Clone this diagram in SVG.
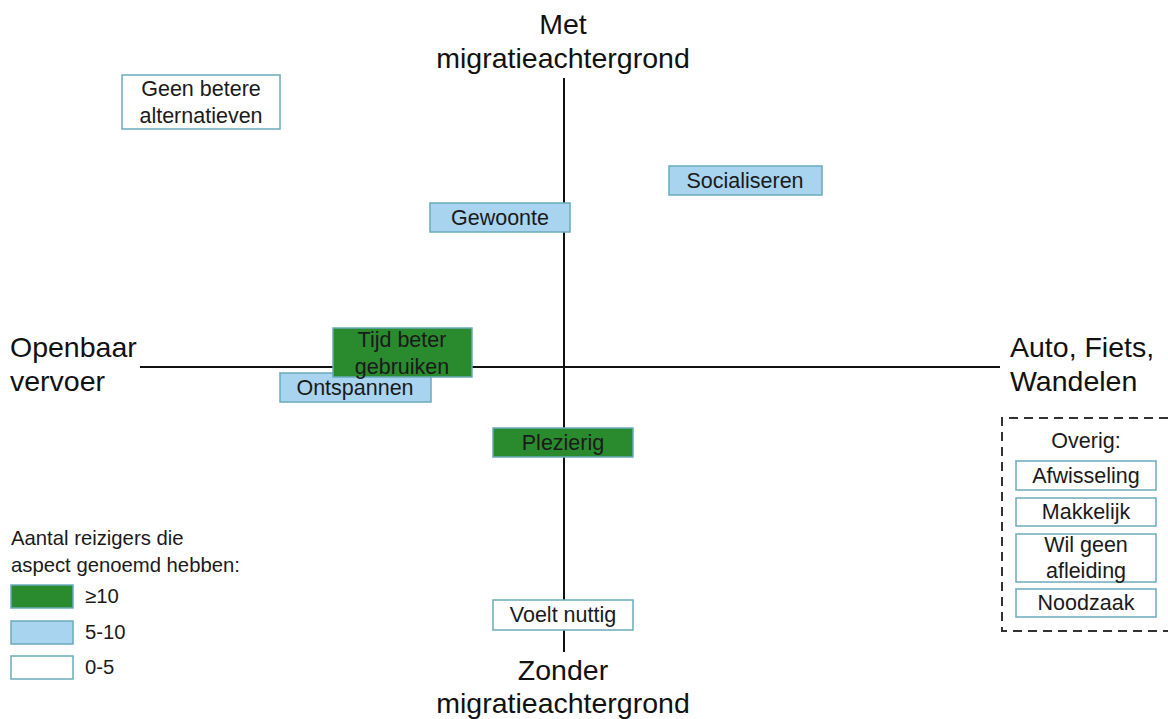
<svg xmlns="http://www.w3.org/2000/svg" width="1168" height="719" viewBox="0 0 1168 719">
<style>
text{font-family:"Liberation Sans",Arial,sans-serif;fill:#1a1a1a}
.ax{font-size:28.5px;fill:#111}
.lb{font-size:21.5px;text-anchor:middle}
.lg{font-size:20.3px}
.box{stroke:#6aaabb;stroke-width:1.5}
.g{fill:#2a8a2e}
.b{fill:#a8d4f0}
.w{fill:#ffffff}
.axis{stroke:#111;stroke-width:2}
</style>
<rect width="1168" height="719" fill="#fff"/>
<g id="connectors">
<line class="axis" x1="564" y1="78" x2="564" y2="652"/>
<line class="axis" x1="140" y1="367" x2="1000" y2="367"/>
</g>
<g id="axis-top"><text class="ax" x="563" y="34" text-anchor="middle">Met</text><text class="ax" x="563" y="68" text-anchor="middle">migratieachtergrond</text></g>
<g id="axis-bottom"><text class="ax" x="563" y="680" text-anchor="middle">Zonder</text><text class="ax" x="563" y="713" text-anchor="middle">migratieachtergrond</text></g>
<g id="axis-left"><text class="ax" x="10" y="357">Openbaar</text><text class="ax" x="10" y="391">vervoer</text></g>
<g id="axis-right"><text class="ax" x="1010" y="357">Auto, Fiets,</text><text class="ax" x="1010" y="391">Wandelen</text></g>
<g id="geen"><rect class="box w" x="122" y="75" width="158" height="54"/><text class="lb" x="201" y="96">Geen betere</text><text class="lb" x="201" y="123">alternatieven</text></g>
<g id="gewoonte"><rect class="box b" x="430" y="203" width="140" height="29"/><text class="lb" x="500" y="225">Gewoonte</text></g>
<g id="socialiseren"><rect class="box b" x="669" y="166" width="153" height="29"/><text class="lb" x="745" y="188">Socialiseren</text></g>
<g id="ontspannen"><rect class="box b" x="280" y="373" width="151" height="29"/><text class="lb" x="355" y="395">Ontspannen</text></g>
<g id="tijd"><rect class="box g" x="333" y="328" width="139" height="49"/><text class="lb" x="402" y="347">Tijd beter</text><text class="lb" x="402" y="374">gebruiken</text></g>
<g id="plezierig"><rect class="box g" x="493" y="428" width="140" height="29"/><text class="lb" x="563" y="450">Plezierig</text></g>
<g id="nuttig"><rect class="box w" x="493" y="600" width="140" height="30"/><text class="lb" x="563" y="622">Voelt nuttig</text></g>
<g id="overig">
<path d="M1168 418 H1002 V631 H1168" fill="none" stroke="#333" stroke-width="2" stroke-dasharray="9,6"/>
<text class="lb" x="1086" y="448">Overig:</text>
<g id="afwisseling"><rect class="box w" x="1016" y="461" width="140" height="29"/><text class="lb" x="1086" y="483">Afwisseling</text></g>
<g id="makkelijk"><rect class="box w" x="1016" y="498" width="140" height="28"/><text class="lb" x="1086" y="519">Makkelijk</text></g>
<g id="afleiding"><rect class="box w" x="1016" y="534" width="140" height="48"/><text class="lb" x="1086" y="552">Wil geen</text><text class="lb" x="1086" y="578">afleiding</text></g>
<g id="noodzaak"><rect class="box w" x="1016" y="589" width="140" height="28"/><text class="lb" x="1086" y="610">Noodzaak</text></g>
</g>
<g id="legend">
<text class="lg" x="11" y="545">Aantal reizigers die</text>
<text class="lg" x="11" y="572">aspect genoemd hebben:</text>
<rect class="box g" x="11" y="585" width="62" height="23"/><text class="lg" x="85" y="603">≥10</text>
<rect class="box b" x="11" y="621" width="62" height="23"/><text class="lg" x="85" y="639">5-10</text>
<rect class="box w" x="11" y="656" width="62" height="23"/><text class="lg" x="85" y="674">0-5</text>
</g>
</svg>
